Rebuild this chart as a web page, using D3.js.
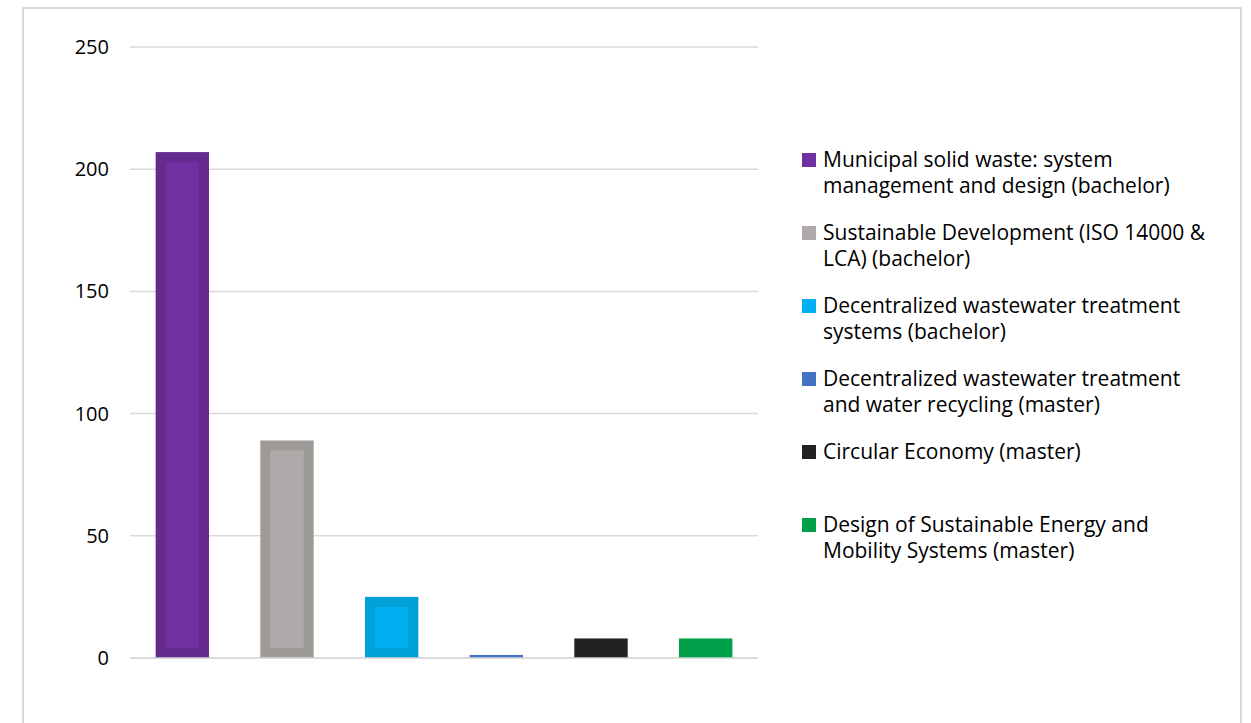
<!DOCTYPE html>
<html>
<head>
<meta charset="utf-8">
<script src="https://cdn.jsdelivr.net/npm/d3@7/dist/d3.min.js"></script>
<style>
  html, body { margin: 0; padding: 0; background: #fff; }
  svg { display: block; }
  text { font-family: "Open Sans", Lato, sans-serif; fill: #000; }
</style>
</head>
<body>
<svg id="chart" width="1251" height="723"></svg>
<script>
const categories = [
  "Municipal solid waste: system management and design (bachelor)",
  "Sustainable Development (ISO 14000 & LCA) (bachelor)",
  "Decentralized wastewater treatment systems (bachelor)",
  "Decentralized wastewater treatment and water recycling (master)",
  "Circular Economy (master)",
  "Design of Sustainable Energy and Mobility Systems (master)"
];
const legendLines = [
  ["Municipal solid waste: system", "management and design (bachelor)"],
  ["Sustainable Development (ISO 14000 &", "LCA) (bachelor)"],
  ["Decentralized wastewater treatment", "systems (bachelor)"],
  ["Decentralized wastewater treatment", "and water recycling (master)"],
  ["Circular Economy (master)"],
  ["Design of Sustainable Energy and", "Mobility Systems (master)"]
];
const values = [207, 89, 25, 1, 8, 8];
const innerColors = ["#7030a0", "#aeaaaa", "#00b0f0", "#4472c4", "#222222", "#00a04a"];
const outerColors = ["#652b8f", "#9d9a98", "#00a0d9", "#4472c4", "#222222", "#00a04a"];
const yTicks = [0, 50, 100, 150, 200, 250];

const svg = d3.select("#chart");

// outer chart border
svg.append("rect")
  .attr("x", 23).attr("y", 8)
  .attr("width", 1218).attr("height", 730)
  .attr("fill", "#fff")
  .attr("stroke", "#d9d9d9").attr("stroke-width", 2);

const x = d3.scaleBand().domain(d3.range(categories.length)).range([130, 758]).paddingInner(0.49).paddingOuter(0.245);
const y = d3.scaleLinear().domain([0, 250]).range([658, 47]);

// gridlines
svg.append("g").selectAll("line").data(yTicks).join("line")
  .attr("x1", 130).attr("x2", 758)
  .attr("y1", d => y(d)).attr("y2", d => y(d))
  .attr("stroke", "#d9d9d9").attr("stroke-width", 1.5);

// y axis labels
const yAxis = d3.axisLeft(y).tickValues(yTicks).tickSize(0).tickPadding(0).tickFormat(d3.format("d"));
const gy = svg.append("g").attr("transform", "translate(109,0)").call(yAxis);
gy.select(".domain").remove();
gy.selectAll("text").style("font-size", "20px").style("font-family", "'Open Sans', sans-serif").attr("fill", "#000");

// bars
const bars = svg.append("g").selectAll("g").data(values).join("g");
bars.append("rect")
  .attr("x", (d, i) => x(i))
  .attr("y", d => y(d) - (d < 2 ? 0.6 : 0))
  .attr("width", x.bandwidth())
  .attr("height", d => y(0) - y(d) + (d < 2 ? 0.6 : 0))
  .attr("fill", (d, i) => outerColors[i]);
const inset = 10;
bars.filter(d => y(0) - y(d) > 2 * inset + 4).append("rect")
  .attr("x", (d, i) => x(i) + inset)
  .attr("y", d => y(d) + inset)
  .attr("width", x.bandwidth() - 2 * inset)
  .attr("height", d => y(0) - y(d) - 2 * inset)
  .attr("fill", (d, i) => innerColors[i]);

// baseline
svg.append("line").attr("x1", 130).attr("x2", 758).attr("y1", y(0)).attr("y2", y(0))
  .attr("stroke", "#d9d9d9").attr("stroke-width", 1.5);

// legend
const legend = svg.append("g");
const entryY = [160, 233, 306, 379, 452, 525];
legendLines.forEach((lines, i) => {
  const g = legend.append("g");
  g.append("rect").attr("x", 802).attr("y", entryY[i] - 7).attr("width", 14).attr("height", 14)
    .attr("fill", innerColors[i]);
  lines.forEach((t, j) => {
    g.append("text").attr("x", 823).attr("y", entryY[i] + 7 + j * 26)
      .style("font-size", "21px").text(t);
  });
});
</script>
</body>
</html>
